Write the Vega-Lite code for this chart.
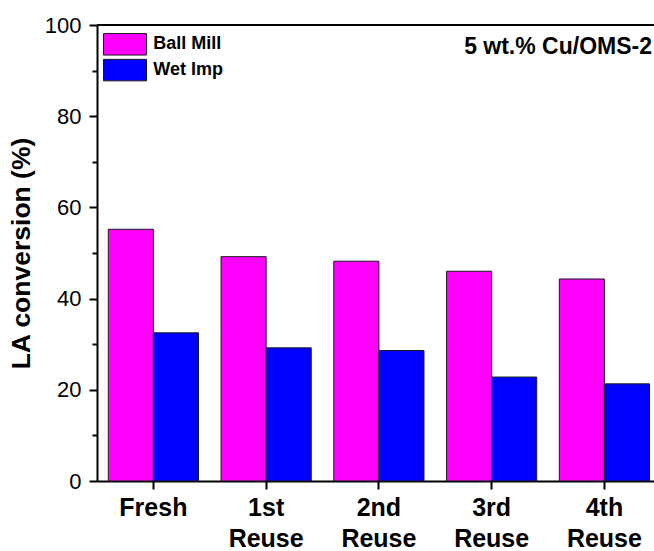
{
  "$schema": "https://vega.github.io/schema/vega-lite/v6.json",
  "width": 557,
  "height": 456,
  "autosize": {"type": "none"},
  "padding": {"left": 97, "top": 25, "right": 0, "bottom": 70},
  "background": "white",
  "config": {
    "view": {"stroke": null},
    "font": "Liberation Sans"
  },
  "title": {
    "text": "5 wt.% Cu/OMS-2",
    "orient": "top",
    "anchor": "end",
    "frame": "group",
    "offset": -30,
    "baseline": "alphabetic",
    "dx": -2,
    "dy": 33,
    "fontSize": 23,
    "fontWeight": "bold",
    "color": "black"
  },
  "data": {
    "values": [
      {"run": "Fresh", "method": "Ball Mill", "conversion": 55.2},
      {"run": "Fresh", "method": "Wet Imp", "conversion": 32.5},
      {"run": "1st Reuse", "method": "Ball Mill", "conversion": 49.2},
      {"run": "1st Reuse", "method": "Wet Imp", "conversion": 29.2},
      {"run": "2nd Reuse", "method": "Ball Mill", "conversion": 48.2},
      {"run": "2nd Reuse", "method": "Wet Imp", "conversion": 28.6},
      {"run": "3rd Reuse", "method": "Ball Mill", "conversion": 46.0},
      {"run": "3rd Reuse", "method": "Wet Imp", "conversion": 22.8},
      {"run": "4th Reuse", "method": "Ball Mill", "conversion": 44.3},
      {"run": "4th Reuse", "method": "Wet Imp", "conversion": 21.3}
    ]
  },
  "layer": [
    {
      "mark": {"type": "bar", "stroke": "#1a1a1a", "strokeWidth": 1},
      "encoding": {
        "x": {
          "field": "run",
          "type": "nominal",
          "sort": ["Fresh", "1st Reuse", "2nd Reuse", "3rd Reuse", "4th Reuse"],
          "scale": {"paddingInner": 0.2, "paddingOuter": 0.07, "align": 0.715},
          "axis": {
            "title": null,
            "labelAngle": 0,
            "labelExpr": "split(datum.label, ' ')",
            "labelFontSize": 25,
            "labelFontWeight": "bold",
            "labelColor": "black",
            "labelLineHeight": 31,
            "labelBaseline": "top",
            "labelPadding": 6,
            "tickSize": 8,
            "tickWidth": 2,
            "tickColor": "black",
            "domainWidth": 2,
            "domainColor": "black"
          }
        },
        "xOffset": {
          "field": "method",
          "sort": ["Ball Mill", "Wet Imp"],
          "scale": {"paddingInner": 0, "paddingOuter": 0}
        },
        "y": {
          "field": "conversion",
          "type": "quantitative",
          "scale": {"domain": [0, 100]},
          "axis": {
            "title": "LA conversion (%)",
            "titleFontSize": 26.5,
            "titleFontWeight": "bold",
            "titleColor": "black",
            "titlePadding": 9,
            "grid": false,
            "values": [0, 10, 20, 30, 40, 50, 60, 70, 80, 90, 100],
            "labelExpr": "datum.value % 20 === 0 ? datum.label : ''",
            "labelFontSize": 22,
            "labelColor": "black",
            "labelPadding": 8,
            "tickSize": {"condition": {"test": "datum.value % 20 === 0", "value": 8}, "value": 5},
            "tickWidth": 2,
            "tickColor": "black",
            "domainWidth": 2,
            "domainColor": "black"
          }
        },
        "color": {
          "field": "method",
          "type": "nominal",
          "scale": {"domain": ["Ball Mill", "Wet Imp"], "range": ["#ff00ff", "#0000ff"]},
          "legend": {
            "title": null,
            "orient": "none",
            "legendX": 16.5,
            "legendY": 7.8,
            "padding": 0,
            "symbolType": "M-2,-1H2V1H-2Z",
            "symbolSize": 462,
            "symbolStrokeColor": "#1a1a1a",
            "symbolStrokeWidth": 1,
            "symbolOpacity": 1,
            "labelFontSize": 18,
            "labelFontWeight": "bold",
            "labelColor": "black",
            "labelOffset": 16.8,
            "rowPadding": -1.2
          }
        }
      }
    },
    {
      "mark": {"type": "rule", "strokeWidth": 2, "color": "black"},
      "encoding": {"y": {"datum": 100}}
    }
  ]
}
